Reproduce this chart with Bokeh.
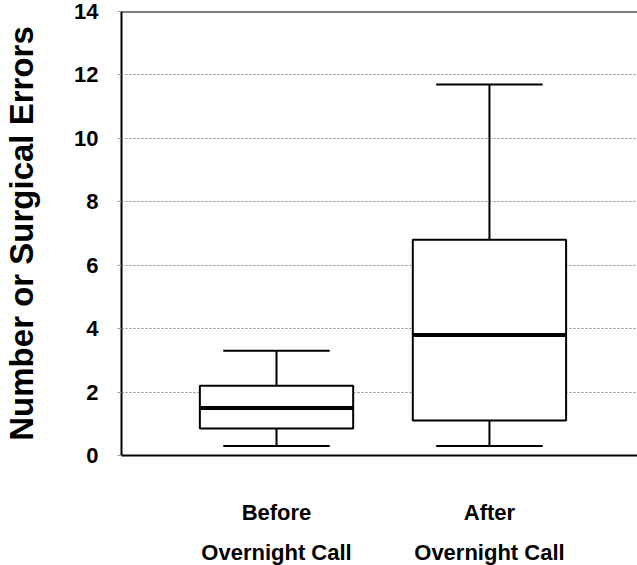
from bokeh.plotting import figure
from bokeh.models import Range1d, FixedTicker, LinearAxis, Span, ColumnDataSource
from bokeh.embed import file_html
from bokeh.resources import INLINE

# ---- data ----
categories = ["Before", "After"]
category_line2 = ["Overnight Call", "Overnight Call"]
positions = [1, 2]
lower_whisker = [0.3, 0.3]
q1 = [0.85, 1.1]
median = [1.5, 3.8]
q3 = [2.2, 6.8]
upper_whisker = [3.3, 11.7]
y_ticks = [0, 2, 4, 6, 8, 10, 12, 14]
y_label = "Number or Surgical Errors"

FONT = "Liberation Sans"
box_w = 0.72
cap_w = 0.50

src = ColumnDataSource(dict(
    x=positions, lo=lower_whisker, q1=q1, med=median, q3=q3, hi=upper_whisker,
    box_l=[p - box_w / 2 for p in positions], box_r=[p + box_w / 2 for p in positions],
    cap_l=[p - cap_w / 2 for p in positions], cap_r=[p + cap_w / 2 for p in positions],
))

p = figure(frame_width=517, frame_height=444, output_backend="svg", toolbar_location=None,
           x_range=Range1d(0.272, 2.70), y_range=Range1d(0, 14),
           min_border_left=120, min_border_top=11, min_border_right=0, min_border_bottom=0)
p.outline_line_color = None
p.background_fill_color = "white"
p.border_fill_color = "white"

# grid
p.xgrid.visible = False
p.ygrid.ticker = FixedTicker(ticks=y_ticks[1:-1])
p.ygrid.grid_line_color = "#888888"
p.ygrid.grid_line_dash = "2 2"
p.ygrid.grid_line_width = 1

# y axis
ya = p.yaxis[0]
ya.ticker = FixedTicker(ticks=y_ticks)
ya.axis_line_width = 2
ya.axis_line_color = "black"
ya.major_tick_out = 4
ya.major_tick_in = 0
ya.major_tick_line_color = "#999999"
ya.minor_tick_line_color = None
ya.major_label_text_font = FONT
ya.major_label_text_font_style = "bold"
ya.major_label_text_font_size = "22px"
ya.major_label_text_color = "black"
ya.major_label_standoff = 19
ya.axis_label = y_label
ya.axis_label_text_font = FONT
ya.axis_label_text_font_style = "bold"
ya.axis_label_text_font_size = "33px"
ya.axis_label_text_color = "black"
ya.axis_label_standoff = 31

# x axis line 1
xa = p.xaxis[0]
xa.ticker = FixedTicker(ticks=positions)
xa.major_label_overrides = {pos: c for pos, c in zip(positions, categories)}
xa.axis_line_width = 2
xa.axis_line_color = "black"
xa.major_tick_in = 0
xa.major_tick_out = 0
xa.minor_tick_line_color = None
xa.major_label_text_font = FONT
xa.major_label_text_font_style = "bold"
xa.major_label_text_font_size = "22px"
xa.major_label_text_color = "black"
xa.major_label_standoff = 44

# x axis line 2
xa2 = LinearAxis(ticker=FixedTicker(ticks=positions),
                 major_label_overrides={pos: c for pos, c in zip(positions, category_line2)})
xa2.axis_line_color = None
xa2.major_tick_in = 0
xa2.major_tick_out = 0
xa2.major_tick_line_color = None
xa2.minor_tick_line_color = None
xa2.major_label_text_font = FONT
xa2.major_label_text_font_style = "bold"
xa2.major_label_text_font_size = "22px"
xa2.major_label_text_color = "black"
xa2.major_label_standoff = 12
p.add_layout(xa2, "below")

# top border
p.add_layout(Span(location=14, dimension="width", line_color="black", line_width=2))

# whiskers
p.segment(x0="x", y0="q3", x1="x", y1="hi", source=src, line_color="black", line_width=2)
p.segment(x0="x", y0="lo", x1="x", y1="q1", source=src, line_color="black", line_width=2)
p.segment(x0="cap_l", y0="hi", x1="cap_r", y1="hi", source=src, line_color="black", line_width=2)
p.segment(x0="cap_l", y0="lo", x1="cap_r", y1="lo", source=src, line_color="black", line_width=2)
# boxes
p.quad(left="box_l", right="box_r", bottom="q1", top="q3", source=src,
       fill_color="white", line_color="black", line_width=2)
# medians
p.segment(x0="box_l", y0="med", x1="box_r", y1="med", source=src, line_color="black", line_width=4)

open("out.html", "w").write(file_html(p, INLINE))
